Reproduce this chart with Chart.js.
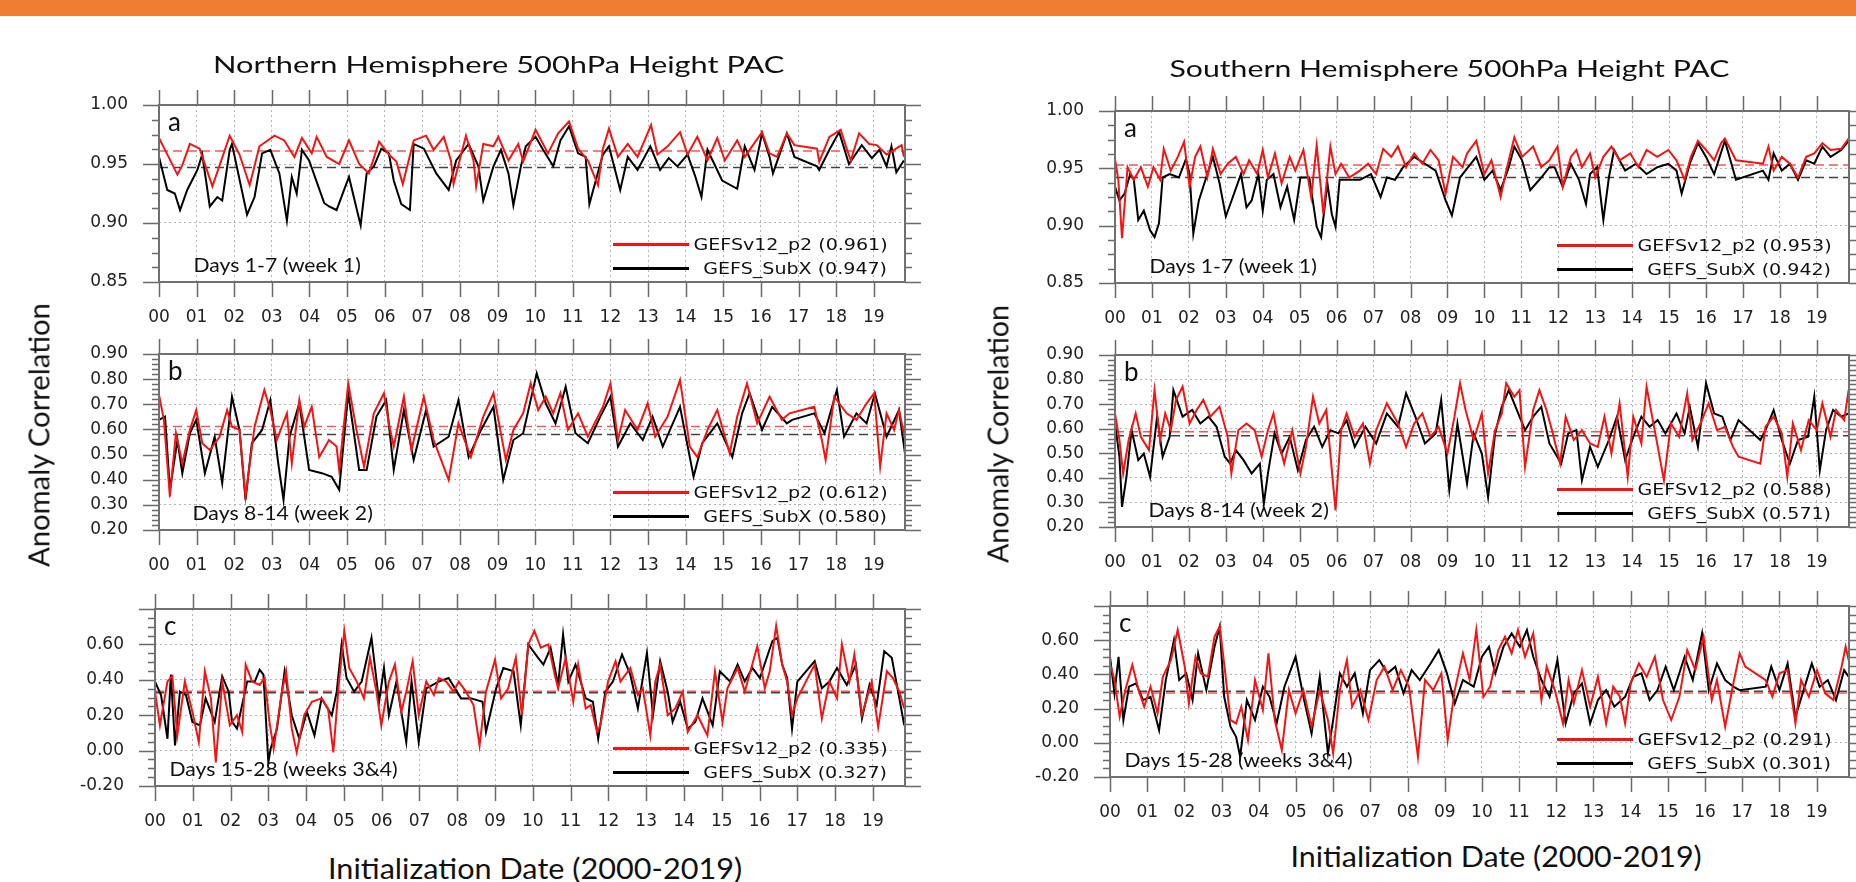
<!DOCTYPE html>
<html>
<head>
<meta charset="utf-8">
<title>500hPa Height PAC</title>
<script src="https://cdn.jsdelivr.net/npm/chart.js@4.4.1/dist/chart.umd.min.js"></script>
<style>
  html, body { margin: 0; padding: 0; }
  body { width: 1856px; height: 882px; overflow: hidden; position: relative; background: #fff; }
  #topbar { position: absolute; left: 0; top: 0; width: 1856px; height: 16px; background: #ed7d31; }
  canvas { position: absolute; }
  .txt { position: absolute; white-space: nowrap; line-height: 1; color: #111; transform-origin: 50% 50%; }
  .swatch { position: absolute; height: 3px; }
</style>
</head>
<body>
<div id="topbar"></div>
<script>
const yearLabels = ["00", "01", "02", "03", "04", "05", "06", "07", "08", "09",
  "10", "11", "12", "13", "14", "15", "16", "17", "18", "19"];
const leadLabels = ["Days 1-7 (week 1)", "Days 8-14 (week 2)", "Days 15-28 (weeks 3&4)"];
const panelLetters = ["a", "b", "c"];
const seriesNames = ["GEFSv12_p2", "GEFS_SubX"];

// mean anomaly correlation, week 1 / week 2 / weeks 3&4
const nhMeanGefsv12 = [0.961, 0.612, 0.335];
const nhMeanSubx = [0.947, 0.580, 0.327];
const shMeanGefsv12 = [0.953, 0.588, 0.291];
const shMeanSubx = [0.942, 0.571, 0.301];

// [years since 2000, anomaly correlation]
const nhW1Gefsv12 = [[0.00,0.972],[0.16,0.962],[0.49,0.941],[0.62,0.949],[0.82,0.967],[1.08,0.963],[1.42,0.931],[1.88,0.974],[2.14,0.958],[2.41,0.932],[2.67,0.965],[3.07,0.974],[3.33,0.970],[3.60,0.956],[3.80,0.972],[4.06,0.959],[4.19,0.973],[4.46,0.956],[4.79,0.950],[5.05,0.970],[5.32,0.950],[5.58,0.942],[5.85,0.969],[6.11,0.958],[6.31,0.952],[6.48,0.933],[6.77,0.970],[7.10,0.974],[7.30,0.962],[7.57,0.973],[7.76,0.953],[7.83,0.933],[8.16,0.974],[8.36,0.953],[8.43,0.931],[8.62,0.967],[8.89,0.965],[9.02,0.973],[9.29,0.953],[9.55,0.967],[9.68,0.952],[10.01,0.979],[10.34,0.959],[10.61,0.976],[10.90,0.986],[11.14,0.963],[11.40,0.953],[11.67,0.932],[11.80,0.963],[11.96,0.980],[12.20,0.956],[12.46,0.967],[12.72,0.956],[13.08,0.983],[13.25,0.958],[13.52,0.965],[13.85,0.977],[14.05,0.958],[14.31,0.973],[14.58,0.953],[14.84,0.972],[15.04,0.953],[15.37,0.970],[15.57,0.956],[16.03,0.977],[16.23,0.959],[16.43,0.956],[16.69,0.976],[16.89,0.966],[17.49,0.963],[17.55,0.952],[17.82,0.973],[18.12,0.979],[18.28,0.963],[18.39,0.953],[18.61,0.976],[18.88,0.967],[19.08,0.966],[19.34,0.958],[19.74,0.966],[19.80,0.956]];
const nhW1Subx = [[0.00,0.956],[0.22,0.928],[0.42,0.925],[0.56,0.911],[0.75,0.928],[1.02,0.945],[1.15,0.958],[1.35,0.914],[1.55,0.922],[1.68,0.919],[1.88,0.962],[1.94,0.967],[2.34,0.907],[2.54,0.922],[2.74,0.959],[2.96,0.962],[3.20,0.942],[3.40,0.902],[3.53,0.939],[3.66,0.925],[3.80,0.962],[3.99,0.953],[4.39,0.917],[4.52,0.914],[4.72,0.911],[4.92,0.928],[5.05,0.939],[5.36,0.898],[5.52,0.942],[5.71,0.948],[5.91,0.963],[6.11,0.959],[6.24,0.936],[6.44,0.916],[6.67,0.911],[6.77,0.967],[7.04,0.963],[7.37,0.942],[7.70,0.928],[7.90,0.953],[8.23,0.967],[8.49,0.948],[8.62,0.919],[8.89,0.948],[9.09,0.962],[9.29,0.942],[9.42,0.915],[9.62,0.948],[9.75,0.965],[10.01,0.973],[10.21,0.962],[10.48,0.948],[10.67,0.970],[10.90,0.982],[11.14,0.959],[11.34,0.956],[11.44,0.916],[11.67,0.943],[11.80,0.958],[11.96,0.965],[12.26,0.928],[12.46,0.956],[12.72,0.945],[13.06,0.965],[13.32,0.945],[13.55,0.955],[13.78,0.948],[14.05,0.958],[14.25,0.940],[14.42,0.922],[14.58,0.962],[14.97,0.936],[15.37,0.929],[15.57,0.965],[15.83,0.945],[16.03,0.976],[16.23,0.956],[16.32,0.942],[16.69,0.976],[16.89,0.956],[17.49,0.948],[17.55,0.945],[17.82,0.962],[18.08,0.977],[18.34,0.950],[18.68,0.966],[18.95,0.955],[19.15,0.962],[19.34,0.948],[19.47,0.965],[19.60,0.943],[19.80,0.953]];

const nhW2Gefsv12 = [[0.00,0.737],[0.13,0.638],[0.29,0.333],[0.45,0.585],[0.62,0.465],[0.82,0.598],[0.99,0.677],[1.15,0.545],[1.35,0.518],[1.61,0.571],[1.81,0.677],[1.94,0.611],[2.14,0.598],[2.30,0.333],[2.54,0.611],[2.80,0.757],[2.96,0.677],[3.13,0.558],[3.40,0.664],[3.53,0.465],[3.73,0.717],[3.86,0.611],[4.06,0.690],[4.26,0.490],[4.52,0.558],[4.72,0.532],[4.79,0.439],[5.03,0.783],[5.25,0.598],[5.45,0.452],[5.71,0.664],[5.98,0.744],[6.11,0.624],[6.24,0.532],[6.51,0.730],[6.71,0.518],[7.04,0.730],[7.30,0.558],[7.70,0.399],[7.96,0.624],[8.29,0.490],[8.62,0.651],[8.89,0.744],[9.22,0.479],[9.42,0.598],[9.68,0.664],[9.88,0.783],[10.08,0.677],[10.28,0.730],[10.48,0.664],[10.67,0.744],[10.87,0.598],[11.14,0.664],[11.40,0.571],[11.80,0.690],[12.00,0.783],[12.20,0.558],[12.39,0.677],[12.72,0.598],[12.99,0.704],[13.19,0.571],[13.52,0.651],[13.85,0.797],[14.11,0.532],[14.31,0.490],[14.58,0.598],[14.84,0.677],[15.17,0.505],[15.37,0.651],[15.63,0.783],[15.90,0.624],[16.23,0.730],[16.56,0.638],[16.76,0.664],[17.42,0.690],[17.62,0.558],[17.72,0.479],[17.95,0.730],[18.28,0.664],[18.54,0.638],[18.81,0.704],[19.01,0.744],[19.17,0.452],[19.34,0.664],[19.54,0.598],[19.67,0.677],[19.80,0.585]];
const nhW2Subx = [[0.00,0.638],[0.16,0.651],[0.29,0.360],[0.49,0.558],[0.62,0.426],[0.82,0.585],[0.99,0.638],[1.22,0.426],[1.48,0.571],[1.68,0.386],[1.94,0.730],[2.14,0.598],[2.30,0.320],[2.47,0.545],[2.74,0.598],[2.96,0.717],[3.17,0.465],[3.31,0.320],[3.47,0.571],[3.73,0.704],[3.99,0.439],[4.33,0.426],[4.59,0.412],[4.79,0.360],[5.03,0.744],[5.32,0.439],[5.52,0.439],[5.78,0.651],[6.04,0.717],[6.24,0.439],[6.51,0.677],[6.77,0.479],[7.10,0.677],[7.30,0.532],[7.70,0.571],[7.96,0.717],[8.23,0.490],[8.56,0.598],[8.89,0.690],[9.15,0.399],[9.42,0.558],[9.68,0.585],[10.04,0.823],[10.28,0.704],[10.54,0.624],[10.81,0.770],[11.07,0.585],[11.40,0.545],[11.73,0.651],[12.00,0.730],[12.20,0.532],[12.53,0.624],[12.86,0.558],[13.12,0.651],[13.39,0.532],[13.85,0.690],[14.21,0.412],[14.44,0.545],[14.84,0.624],[15.24,0.490],[15.50,0.664],[15.70,0.744],[16.03,0.598],[16.30,0.690],[16.69,0.624],[16.83,0.638],[17.42,0.664],[17.69,0.585],[18.02,0.757],[18.21,0.571],[18.54,0.664],[18.81,0.624],[19.03,0.744],[19.34,0.571],[19.67,0.677],[19.83,0.505]];

const nhW34Gefsv12 = [[0.00,0.333],[0.13,0.143],[0.33,0.390],[0.46,0.420],[0.59,0.086],[0.79,0.390],[0.99,0.219],[1.16,0.048],[1.32,0.448],[1.48,0.295],[1.61,-0.067],[1.78,0.390],[1.98,0.143],[2.17,0.200],[2.31,0.105],[2.40,0.486],[2.57,0.390],[2.77,0.371],[2.90,0.410],[3.03,0.162],[3.14,0.010],[3.36,0.333],[3.47,0.448],[3.62,0.124],[3.75,-0.010],[3.95,0.200],[4.15,0.276],[4.41,0.295],[4.58,0.238],[4.72,-0.010],[4.87,0.390],[5.01,0.676],[5.14,0.467],[5.34,0.390],[5.53,0.295],[5.69,0.524],[5.86,0.333],[5.99,0.143],[6.19,0.390],[6.35,0.486],[6.52,0.219],[6.65,0.333],[6.82,0.505],[6.98,0.200],[7.18,0.390],[7.38,0.314],[7.51,0.410],[7.71,0.390],[7.90,0.333],[8.04,0.390],[8.23,0.333],[8.43,0.257],[8.59,0.029],[8.76,0.333],[9.00,0.514],[9.16,0.295],[9.35,0.352],[9.55,0.524],[9.71,0.200],[9.88,0.600],[10.04,0.676],[10.21,0.581],[10.41,0.600],[10.58,0.429],[10.67,0.352],[10.87,0.524],[11.07,0.276],[11.20,0.486],[11.40,0.238],[11.53,0.257],[11.70,0.105],[11.79,0.143],[11.99,0.390],[12.19,0.505],[12.32,0.390],[12.58,0.467],[12.78,0.314],[12.91,0.352],[13.11,0.086],[13.24,0.390],[13.37,0.486],[13.57,0.200],[13.77,0.238],[13.97,0.333],[14.10,0.105],[14.36,0.200],[14.62,0.086],[14.82,0.448],[15.02,0.162],[15.15,0.352],[15.42,0.467],[15.61,0.333],[15.94,0.590],[16.14,0.352],[16.27,0.448],[16.44,0.705],[16.60,0.486],[16.73,0.390],[16.86,0.200],[17.00,0.295],[17.46,0.486],[17.65,0.181],[17.85,0.390],[18.05,0.295],[18.18,0.600],[18.38,0.390],[18.51,0.543],[18.71,0.200],[18.97,0.390],[19.14,0.133],[19.37,0.448],[19.53,0.410],[19.70,0.333],[19.83,0.238]];
const nhW34Subx = [[0.00,0.390],[0.16,0.314],[0.33,0.067],[0.42,0.429],[0.53,0.029],[0.66,0.333],[0.82,0.314],[0.99,0.162],[1.19,0.143],[1.34,0.295],[1.58,0.162],[1.78,0.419],[1.95,0.333],[2.04,0.162],[2.17,0.124],[2.44,0.390],[2.64,0.390],[2.77,0.457],[2.87,0.429],[3.00,-0.067],[3.06,0.010],[3.23,0.124],[3.43,0.448],[3.62,0.200],[3.82,0.067],[4.02,0.219],[4.22,0.086],[4.41,0.295],[4.68,0.200],[4.81,0.333],[4.94,0.600],[5.07,0.410],[5.27,0.333],[5.47,0.390],[5.73,0.638],[5.93,0.276],[6.06,0.467],[6.19,0.200],[6.39,0.390],[6.65,0.048],[6.79,0.390],[6.98,0.048],[7.18,0.352],[7.51,0.390],[7.77,0.410],[8.10,0.295],[8.37,0.295],[8.67,0.276],[8.76,0.105],[9.03,0.352],[9.22,0.467],[9.49,0.448],[9.68,0.143],[9.88,0.600],[10.14,0.524],[10.28,0.486],[10.47,0.581],[10.67,0.371],[10.80,0.657],[10.94,0.390],[11.13,0.486],[11.40,0.295],[11.59,0.276],[11.73,0.067],[11.92,0.333],[12.12,0.390],[12.36,0.543],[12.58,0.429],[12.78,0.238],[13.02,0.552],[13.18,0.200],[13.37,0.505],[13.57,0.333],[13.70,0.162],[13.90,0.276],[14.10,0.124],[14.30,0.162],[14.49,0.295],[14.76,0.143],[14.95,0.448],[15.22,0.390],[15.42,0.486],[15.61,0.390],[15.81,0.467],[16.01,0.410],[16.34,0.619],[16.47,0.638],[16.60,0.486],[16.73,0.410],[16.86,0.124],[17.00,0.390],[17.46,0.505],[17.65,0.352],[17.85,0.390],[18.05,0.467],[18.31,0.371],[18.55,0.486],[18.71,0.181],[18.91,0.371],[19.10,0.257],[19.30,0.562],[19.50,0.524],[19.70,0.295],[19.83,0.143]];

const shW1Gefsv12 = [[0.00,0.958],[0.09,0.940],[0.19,0.889],[0.34,0.951],[0.51,0.940],[0.70,0.951],[0.89,0.934],[1.04,0.951],[1.22,0.940],[1.32,0.967],[1.51,0.948],[1.70,0.960],[1.87,0.973],[2.02,0.934],[2.17,0.960],[2.31,0.969],[2.50,0.942],[2.65,0.967],[2.86,0.945],[3.05,0.954],[3.27,0.960],[3.48,0.945],[3.63,0.957],[3.85,0.945],[4.00,0.966],[4.14,0.942],[4.33,0.963],[4.51,0.937],[4.73,0.960],[4.88,0.948],[5.10,0.966],[5.31,0.925],[5.46,0.970],[5.64,0.910],[5.83,0.969],[5.97,0.945],[6.12,0.954],[6.34,0.942],[6.63,0.948],[6.85,0.954],[7.07,0.945],[7.26,0.967],[7.48,0.960],[7.66,0.969],[7.88,0.951],[8.10,0.963],[8.32,0.954],[8.54,0.966],[8.76,0.957],[8.95,0.928],[9.15,0.960],[9.41,0.951],[9.53,0.963],[9.78,0.974],[10.00,0.945],[10.19,0.957],[10.44,0.925],[10.59,0.948],[10.81,0.977],[11.02,0.960],[11.32,0.969],[11.54,0.951],[11.76,0.957],[11.98,0.969],[12.12,0.934],[12.34,0.960],[12.49,0.966],[12.64,0.951],[12.86,0.963],[13.00,0.942],[13.22,0.960],[13.44,0.969],[13.66,0.957],[13.95,0.963],[14.17,0.951],[14.39,0.966],[14.68,0.960],[14.98,0.966],[15.20,0.957],[15.42,0.940],[15.59,0.960],[15.78,0.974],[16.00,0.966],[16.22,0.957],[16.41,0.972],[16.51,0.976],[16.81,0.957],[17.54,0.954],[17.69,0.969],[17.83,0.948],[18.05,0.960],[18.27,0.954],[18.49,0.942],[18.71,0.960],[18.93,0.963],[19.15,0.972],[19.37,0.966],[19.66,0.967],[19.86,0.976]];
const shW1Subx = [[0.00,0.934],[0.12,0.922],[0.26,0.928],[0.41,0.945],[0.51,0.940],[0.63,0.905],[0.78,0.913],[0.95,0.896],[1.07,0.890],[1.19,0.902],[1.29,0.942],[1.48,0.945],[1.73,0.942],[1.92,0.958],[2.02,0.945],[2.12,0.893],[2.27,0.922],[2.50,0.945],[2.65,0.960],[2.83,0.937],[3.00,0.908],[3.19,0.925],[3.41,0.945],[3.56,0.916],[3.70,0.922],[3.88,0.945],[4.00,0.913],[4.11,0.940],[4.29,0.945],[4.48,0.916],[4.66,0.934],[4.85,0.905],[5.02,0.942],[5.26,0.942],[5.46,0.899],[5.58,0.890],[5.75,0.937],[5.87,0.910],[5.97,0.899],[6.08,0.940],[6.34,0.940],[6.63,0.940],[6.93,0.945],[7.19,0.925],[7.36,0.942],[7.58,0.940],[7.80,0.951],[8.10,0.960],[8.39,0.954],[8.68,0.948],[8.95,0.922],[9.12,0.909],[9.34,0.942],[9.56,0.951],[9.78,0.960],[10.00,0.940],[10.22,0.948],[10.44,0.931],[10.66,0.951],[10.81,0.969],[11.02,0.957],[11.24,0.931],[11.54,0.942],[11.76,0.951],[11.90,0.951],[12.12,0.934],[12.34,0.954],[12.56,0.940],[12.75,0.919],[12.86,0.945],[13.05,0.951],[13.22,0.905],[13.37,0.942],[13.51,0.966],[13.81,0.948],[14.10,0.954],[14.39,0.945],[14.68,0.951],[14.98,0.954],[15.20,0.948],[15.34,0.928],[15.56,0.954],[15.78,0.972],[16.00,0.960],[16.22,0.945],[16.51,0.974],[16.81,0.940],[17.54,0.948],[17.69,0.940],[17.83,0.963],[18.05,0.948],[18.27,0.954],[18.49,0.940],[18.71,0.957],[18.93,0.954],[19.15,0.969],[19.37,0.960],[19.66,0.966],[19.86,0.974]];

const shW2Gefsv12 = [[0.00,0.662],[0.12,0.554],[0.22,0.418],[0.37,0.554],[0.56,0.662],[0.70,0.567],[0.92,0.513],[1.07,0.757],[1.22,0.554],[1.36,0.662],[1.51,0.594],[1.65,0.717],[1.83,0.771],[2.02,0.621],[2.21,0.676],[2.39,0.717],[2.58,0.649],[2.83,0.689],[3.05,0.567],[3.15,0.418],[3.34,0.594],[3.56,0.621],[3.78,0.594],[3.97,0.486],[4.14,0.594],[4.29,0.662],[4.44,0.540],[4.58,0.458],[4.80,0.594],[5.02,0.418],[5.17,0.526],[5.36,0.730],[5.53,0.621],[5.72,0.676],[5.97,0.268],[6.12,0.594],[6.27,0.662],[6.49,0.567],[6.71,0.621],[6.90,0.458],[7.07,0.594],[7.36,0.703],[7.66,0.621],[7.88,0.526],[8.10,0.621],[8.32,0.662],[8.54,0.567],[8.76,0.608],[9.00,0.499],[9.19,0.649],[9.34,0.785],[9.49,0.676],[9.71,0.554],[9.93,0.662],[10.10,0.418],[10.29,0.594],[10.47,0.662],[10.59,0.785],[10.81,0.730],[10.95,0.757],[11.10,0.445],[11.32,0.676],[11.49,0.757],[11.68,0.676],[11.83,0.594],[12.05,0.458],[12.20,0.649],[12.42,0.554],[12.64,0.594],[12.86,0.540],[13.07,0.526],[13.25,0.649],[13.44,0.499],[13.66,0.703],[13.88,0.404],[14.03,0.649],[14.25,0.540],[14.39,0.771],[14.61,0.594],[14.86,0.390],[15.05,0.621],[15.27,0.567],[15.49,0.744],[15.63,0.554],[15.85,0.621],[16.07,0.703],[16.30,0.594],[16.51,0.608],[16.73,0.526],[16.88,0.486],[17.47,0.458],[17.61,0.608],[17.83,0.649],[18.05,0.581],[18.20,0.404],[18.35,0.621],[18.57,0.513],[18.78,0.635],[19.00,0.594],[19.15,0.703],[19.37,0.567],[19.52,0.676],[19.74,0.635],[19.86,0.757]];
const shW2Subx = [[0.00,0.621],[0.12,0.486],[0.19,0.282],[0.31,0.404],[0.45,0.594],[0.63,0.472],[0.78,0.499],[0.95,0.404],[1.14,0.649],[1.29,0.486],[1.48,0.567],[1.58,0.757],[1.83,0.649],[2.09,0.676],[2.31,0.621],[2.53,0.649],[2.75,0.608],[2.97,0.486],[3.12,0.458],[3.27,0.513],[3.48,0.472],[3.70,0.418],[3.92,0.458],[4.03,0.295],[4.14,0.418],[4.32,0.581],[4.51,0.499],[4.73,0.567],[4.95,0.431],[5.17,0.554],[5.39,0.608],[5.61,0.526],[5.83,0.594],[6.05,0.581],[6.27,0.635],[6.49,0.526],[6.78,0.608],[7.07,0.540],[7.36,0.662],[7.66,0.608],[7.88,0.744],[8.13,0.649],[8.39,0.540],[8.68,0.581],[8.83,0.717],[9.05,0.350],[9.27,0.621],[9.53,0.377],[9.71,0.581],[9.93,0.499],[10.10,0.322],[10.29,0.581],[10.47,0.689],[10.66,0.757],[10.88,0.676],[11.10,0.594],[11.32,0.649],[11.54,0.689],[11.76,0.540],[12.08,0.458],[12.27,0.581],[12.49,0.594],[12.64,0.390],[12.86,0.526],[13.07,0.445],[13.37,0.554],[13.59,0.649],[13.81,0.472],[14.03,0.567],[14.25,0.649],[14.47,0.608],[14.69,0.635],[14.90,0.581],[15.20,0.662],[15.42,0.581],[15.56,0.689],[15.78,0.526],[16.00,0.785],[16.22,0.662],[16.44,0.649],[16.66,0.554],[16.88,0.635],[17.47,0.554],[17.61,0.594],[17.83,0.676],[18.05,0.554],[18.27,0.458],[18.49,0.554],[18.76,0.567],[18.93,0.730],[19.08,0.431],[19.25,0.594],[19.44,0.676],[19.66,0.649],[19.86,0.662]];

const shW34Gefsv12 = [[0.00,0.464],[0.12,0.367],[0.26,0.152],[0.41,0.308],[0.60,0.455],[0.77,0.308],[0.92,0.211],[1.09,0.328],[1.28,0.172],[1.42,0.386],[1.64,0.484],[1.82,0.660],[2.01,0.445],[2.12,0.230],[2.30,0.503],[2.44,0.406],[2.63,0.386],[2.81,0.620],[2.95,0.680],[3.10,0.406],[3.24,0.133],[3.39,0.113],[3.53,0.211],[3.71,0.016],[3.90,0.367],[4.11,0.191],[4.26,0.523],[4.43,0.133],[4.62,-0.043],[4.81,0.308],[4.99,0.172],[5.20,0.308],[5.42,0.094],[5.64,0.308],[5.86,0.133],[6.00,-0.062],[6.18,0.308],[6.37,0.484],[6.51,0.211],[6.73,0.308],[6.95,0.133],[7.17,0.367],[7.38,0.445],[7.60,0.308],[7.82,0.425],[8.04,0.328],[8.28,-0.082],[8.47,0.367],[8.69,0.308],[8.91,0.406],[9.08,0.016],[9.27,0.308],[9.49,0.523],[9.67,0.367],[9.85,0.660],[10.04,0.269],[10.22,0.328],[10.44,0.542],[10.62,0.620],[10.80,0.523],[10.97,0.660],[11.16,0.503],[11.38,0.640],[11.60,0.250],[11.74,0.445],[11.96,0.308],[12.18,0.113],[12.33,0.367],[12.47,0.230],[12.69,0.425],[12.91,0.211],[13.12,0.386],[13.34,0.113],[13.53,0.328],[13.71,0.269],[13.85,0.113],[14.00,0.347],[14.22,0.464],[14.43,0.386],[14.65,0.503],[14.87,0.250],[15.09,0.133],[15.31,0.269],[15.52,0.542],[15.74,0.425],[15.96,0.620],[16.18,0.250],[16.32,0.367],[16.54,0.094],[16.76,0.347],[16.93,0.523],[17.08,0.445],[17.63,0.367],[17.81,0.269],[18.00,0.406],[18.22,0.425],[18.43,0.113],[18.58,0.367],[18.79,0.269],[19.01,0.425],[19.23,0.289],[19.45,0.250],[19.67,0.445],[19.78,0.562],[19.86,0.484]];
const shW34Subx = [[0.00,0.503],[0.12,0.289],[0.23,0.503],[0.36,0.133],[0.51,0.328],[0.70,0.347],[0.89,0.250],[1.09,0.269],[1.32,0.074],[1.50,0.367],[1.72,0.601],[1.86,0.367],[2.05,0.406],[2.22,0.250],[2.37,0.523],[2.59,0.308],[2.81,0.562],[2.95,0.680],[3.07,0.269],[3.24,0.094],[3.39,0.035],[3.50,-0.082],[3.68,0.250],[3.90,0.133],[4.11,0.328],[4.29,0.269],[4.48,0.113],[4.69,0.328],[4.99,0.503],[5.20,0.269],[5.42,0.055],[5.64,0.386],[5.86,-0.062],[6.00,0.133],[6.18,0.406],[6.37,0.328],[6.58,0.406],[6.80,0.172],[6.99,0.425],[7.24,0.484],[7.46,0.406],[7.67,0.445],[7.89,0.289],[8.11,0.425],[8.33,0.367],[8.62,0.464],[8.84,0.542],[9.06,0.406],[9.27,0.230],[9.49,0.367],[9.78,0.328],[10.00,0.503],[10.19,0.562],[10.36,0.406],[10.58,0.562],[10.80,0.640],[11.02,0.562],[11.21,0.660],[11.38,0.503],[11.60,0.367],[11.82,0.269],[12.03,0.484],[12.25,0.113],[12.47,0.289],[12.69,0.347],[12.91,0.113],[13.12,0.250],[13.34,0.308],[13.56,0.211],[13.85,0.269],[14.07,0.386],[14.29,0.406],[14.51,0.250],[14.72,0.308],[14.94,0.445],[15.16,0.308],[15.45,0.503],[15.67,0.367],[15.92,0.640],[16.10,0.308],[16.32,0.464],[16.54,0.367],[16.76,0.328],[16.93,0.308],[17.63,0.328],[17.78,0.445],[18.00,0.308],[18.22,0.464],[18.43,0.152],[18.65,0.308],[18.87,0.464],[19.08,0.328],[19.30,0.367],[19.52,0.250],[19.74,0.425],[19.86,0.386]];

const RED = "#f41414";
const RED_MEAN = "#f25a5a";
const BLACK = "#000000";
const TICK_FONT = { family: "DejaVu Sans", size: 17 };

// y scale per lead: week 1, week 2, weeks 3&4
const yAxes = [
  { min: 0.85, max: 1.0, step: 0.05, minor: 0.0125, top: 1.0 },
  { min: 0.2, max: 0.9, step: 0.1, minor: 0.02, top: 0.9 },
  { min: -0.2, max: 0.8, step: 0.2, minor: 0.05, top: 0.6 },
];

// plot boxes [left, top, right, bottom] in page pixels
const nhBoxes = [[159, 105, 905, 282], [159, 354, 905, 530], [155, 609, 905, 786]];
const shBoxes = [[1115, 111, 1849, 283], [1115, 355, 1849, 527], [1110, 606, 1849, 777]];

const PADL = 110, PADT = 50, PADR = 50, PADB = 56;

// frame, outward year ticks and major/minor value ticks
const frameTicks = {
  id: "frameTicks",
  afterDraw(chart, args, opts) {
    const { ctx, chartArea: a } = chart;
    const x = chart.scales.x, y = chart.scales.y;
    ctx.save();
    ctx.strokeStyle = "#6a6a6a";
    ctx.lineWidth = 1.5;
    ctx.beginPath();
    yearLabels.forEach((lab, i) => {
      const px = Math.round(x.getPixelForValue(i)) + 0.5;
      ctx.moveTo(px, a.top); ctx.lineTo(px, a.top - 15);
      ctx.moveTo(px, a.bottom); ctx.lineTo(px, a.bottom + 15);
    });
    const n = Math.round((y.max - y.min) / opts.minor);
    for (let k = 0; k <= n; k++) {
      const v = y.min + k * opts.minor;
      const r = v / opts.major;
      const len = Math.abs(r - Math.round(r)) < 1e-6 ? 16 : 7;
      const py = Math.round(y.getPixelForValue(v)) + 0.5;
      ctx.moveTo(a.left, py); ctx.lineTo(a.left - len, py);
      ctx.moveTo(a.right, py); ctx.lineTo(a.right + len, py);
    }
    ctx.stroke();
    ctx.lineWidth = 2;
    ctx.strokeStyle = "#707070";
    ctx.strokeRect(a.left, a.top, a.right - a.left, a.bottom - a.top);
    ctx.restore();
  },
};

/**
 * @param {string} str
 * @param {object} o  x, y, align, font, width|scale, rotate
 */
function placeText(str, o) {
  const el = document.createElement("div");
  el.className = "txt";
  el.textContent = str;
  el.style.font = o.font;
  document.body.appendChild(el);
  const w = el.offsetWidth, h = el.offsetHeight;
  const k = o.width ? o.width / w : (o.scale || 1);
  const shown = w * k;
  let left = o.x - shown / 2;
  if (o.align === "left") left = o.x;
  if (o.align === "right") left = o.x - shown;
  el.style.left = (o.rotate ? o.x - w / 2 : left - (w - shown) / 2) + "px";
  el.style.top = (o.y - h / 2) + "px";
  el.style.transform = (o.rotate ? "rotate(-90deg) " : "") + "scaleX(" + k + ")";
  return shown;
}

function drawPanel(box, xMax, row, red, black, meanRed, meanBlack) {
  const [l, t, r, b] = box;
  const axis = yAxes[row];
  const cv = document.createElement("canvas");
  cv.width = r - l + PADL + PADR;
  cv.height = b - t + PADT + PADB;
  cv.style.left = (l - PADL) + "px";
  cv.style.top = (t - PADT) + "px";
  document.body.appendChild(cv);
  const toPts = arr => arr.map(([x, y]) => ({ x, y }));
  const nTicks = Math.round((axis.max - axis.min) / axis.step);

  const chart = new Chart(cv, {
    type: "line",
    data: {
      datasets: [
        { data: toPts(red), borderColor: RED, borderWidth: 2 },
        { data: toPts(black), borderColor: BLACK, borderWidth: 2 },
        { data: [{ x: 0, y: meanRed }, { x: xMax, y: meanRed }], borderColor: RED_MEAN, borderWidth: 1.5, borderDash: [9, 5] },
        { data: [{ x: 0, y: meanBlack }, { x: xMax, y: meanBlack }], borderColor: "#444", borderWidth: 1.5, borderDash: [9, 5] },
      ],
    },
    options: {
      responsive: false,
      maintainAspectRatio: false,
      animation: false,
      devicePixelRatio: 1,
      layout: { padding: { top: PADT, right: PADR, left: 0, bottom: 0 } },
      elements: { point: { radius: 0 }, line: { tension: 0, fill: false } },
      plugins: {
        legend: { display: false },
        tooltip: { enabled: false },
        frameTicks: { major: axis.step, minor: axis.minor },
      },
      scales: {
        x: {
          type: "linear",
          min: 0,
          max: xMax,
          afterBuildTicks: s => { s.ticks = yearLabels.map((lab, i) => ({ value: i })); },
          afterFit: s => { s.height = PADB; },
          ticks: { autoSkip: false, maxRotation: 0, padding: 25, color: "#222", font: TICK_FONT,
            callback: v => yearLabels[v] },
          grid: { color: "#b4b4b4", lineWidth: 1, drawTicks: false },
          border: { display: false, dash: [2, 3] },
        },
        y: {
          type: "linear",
          min: axis.min,
          max: axis.max,
          afterBuildTicks: s => {
            s.ticks = Array.from({ length: nTicks + 1 }, (u, k) => ({ value: +(axis.min + k * axis.step).toFixed(4) }));
          },
          afterFit: s => { s.width = PADL; },
          ticks: { autoSkip: false, padding: 31, color: "#222", font: TICK_FONT,
            callback: v => (v > axis.top + 1e-6 ? "" : v.toFixed(2)) },
          grid: { color: "#b4b4b4", lineWidth: 1, drawTicks: false },
          border: { display: false, dash: [2, 3] },
        },
      },
    },
    plugins: [frameTicks],
  });

  // line the chart area up with the box
  const ca = chart.chartArea;
  cv.style.left = (l - ca.left) + "px";
  cv.style.top = (t - ca.top) + "px";

  // panel letter, lead label and legend
  placeText(panelLetters[row], { x: l + 9, y: t + 16, align: "left", font: "26px Lato" });
  const leadWidth = [167, 180, 228][row];
  const leadLeft = [34, 33, 14][row];
  placeText(leadLabels[row], { x: l + leadLeft, y: b - 18, align: "left", font: "19px Lato", width: leadWidth });

  const right = r - 18;
  const rowY = [b - 38, b - 14];
  const txtRed = seriesNames[0] + " (" + meanRed.toFixed(3) + ")";
  const txtBlack = seriesNames[1] + " (" + meanBlack.toFixed(3) + ")";
  const wRed = placeText(txtRed, { x: right, y: rowY[0], align: "right", font: "16px 'DejaVu Sans'", scale: 1.19 });
  placeText(txtBlack, { x: right, y: rowY[1], align: "right", font: "16px 'DejaVu Sans'", scale: 1.19 });
  [RED, BLACK].forEach((c, i) => {
    const s = document.createElement("div");
    s.className = "swatch";
    s.style.background = c;
    s.style.left = (right - wRed - 80) + "px";
    s.style.width = "76px";
    s.style.top = (rowY[i] - 1) + "px";
    document.body.appendChild(s);
  });
}

drawPanel(nhBoxes[0], 19.83, 0, nhW1Gefsv12, nhW1Subx, nhMeanGefsv12[0], nhMeanSubx[0]);
drawPanel(nhBoxes[1], 19.83, 1, nhW2Gefsv12, nhW2Subx, nhMeanGefsv12[1], nhMeanSubx[1]);
drawPanel(nhBoxes[2], 19.85, 2, nhW34Gefsv12, nhW34Subx, nhMeanGefsv12[2], nhMeanSubx[2]);
drawPanel(shBoxes[0], 19.87, 0, shW1Gefsv12, shW1Subx, shMeanGefsv12[0], shMeanSubx[0]);
drawPanel(shBoxes[1], 19.87, 1, shW2Gefsv12, shW2Subx, shMeanGefsv12[1], shMeanSubx[1]);
drawPanel(shBoxes[2], 19.87, 2, shW34Gefsv12, shW34Subx, shMeanGefsv12[2], shMeanSubx[2]);

placeText("Northern Hemisphere 500hPa Height PAC", { x: 498, y: 63, font: "24px Lato", width: 571 });
placeText("Southern Hemisphere 500hPa Height PAC", { x: 1449, y: 67, font: "24px Lato", width: 560 });
placeText("Anomaly Correlation", { x: 38, y: 435, font: "28px Lato", width: 264, rotate: true });
placeText("Anomaly Correlation", { x: 997, y: 434, font: "28px Lato", width: 258, rotate: true });
placeText("Initialization Date (2000-2019)", { x: 535, y: 867, font: "29px Lato", width: 414 });
placeText("Initialization Date (2000-2019)", { x: 1496, y: 855, font: "29px Lato", width: 411 });
</script>
</body>
</html>
